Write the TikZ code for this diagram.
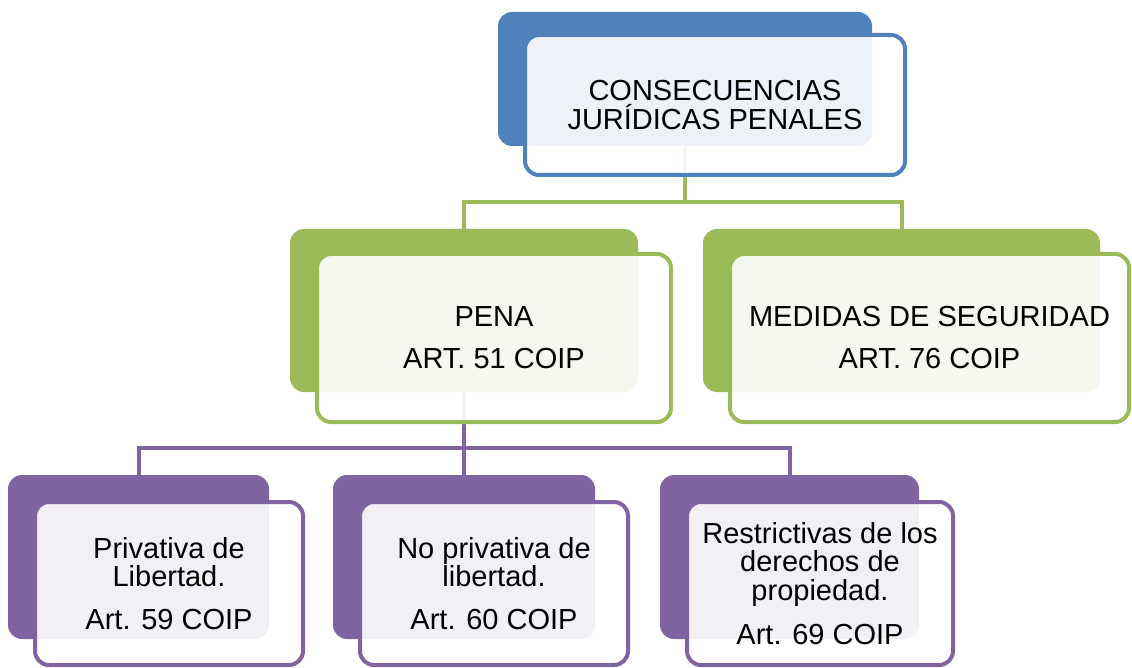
\documentclass[tikz,border=0pt]{standalone}
\usepackage{fontspec}
\setmainfont{Liberation Sans}
\definecolor{cblue}{HTML}{4F81BD}
\definecolor{cgreen}{HTML}{9BBB59}
\definecolor{cpurple}{HTML}{8064A2}
\pgfdeclarelayer{bg}
\pgfsetlayers{bg,main}
\tikzset{
  backbox/.style={rectangle, rounded corners=14pt, inner sep=0pt, draw=none},
  frontbox/.style={rectangle, rounded corners=14pt, inner sep=0pt, line width=4pt,
     fill=white, fill opacity=0.9, text opacity=1, align=center,
     font=\fontsize{29}{28.5}\selectfont},
  conn/.style={line width=4pt}
}
\begin{document}
\begin{tikzpicture}[x=1pt,y=-1pt]
\useasboundingbox (0,0) rectangle (1132,668);
% back boxes
\node[backbox, fill=cblue, minimum width=374pt, minimum height=134pt] (topback) at (685,79) {};
\node[backbox, fill=cgreen, minimum width=348pt, minimum height=163pt] (penaback) at (464,310.5) {};
\node[backbox, fill=cgreen, minimum width=397pt, minimum height=163pt] (medback) at (901.5,310.5) {};
\node[backbox, fill=cpurple, minimum width=261pt, minimum height=164pt] (b1back) at (138.5,557) {};
\node[backbox, fill=cpurple, minimum width=262pt, minimum height=164pt] (b2back) at (464,557) {};
\node[backbox, fill=cpurple, minimum width=259pt, minimum height=164pt] (b3back) at (789.5,557) {};
% front boxes
\node[frontbox, draw=cblue, minimum width=380pt, minimum height=140pt] (top) at (715,105)
  {CONSECUENCIAS\\JURÍDICAS PENALES};
\node[frontbox, draw=cgreen, minimum width=354pt, minimum height=168pt] (pena) at (494,338)
  {PENA\\[13.5pt]ART. 51 COIP};
\node[frontbox, draw=cgreen, minimum width=399pt, minimum height=168pt] (med) at (929.5,338)
  {MEDIDAS DE SEGURIDAD\\[13.5pt]ART. 76 COIP};
\node[frontbox, draw=cpurple, minimum width=268pt, minimum height=163pt] (b1) at (169,583.5)
  {Privativa de\\Libertad.\\[14pt]Art. 59 COIP};
\node[frontbox, draw=cpurple, minimum width=268pt, minimum height=163pt] (b2) at (494,583.5)
  {No privativa de\\libertad.\\[14pt]Art. 60 COIP};
\node[frontbox, draw=cpurple, minimum width=266pt, minimum height=163pt] (b3) at (820,583.5)
  {Restrictivas de los\\derechos de\\propiedad.\\[16pt]Art. 69 COIP};
% connectors
\coordinate (gl) at (0,202);
\coordinate (pl) at (0,448);
\begin{pgfonlayer}{bg}
\draw[conn, cgreen] (topback.center) -- (topback.center |- gl) -| (penaback.center);
\draw[conn, cgreen] (topback.center |- gl) -| (medback.center);
\draw[conn, cpurple] (penaback.center) -- (penaback.center |- pl) -| (b1back.center);
\draw[conn, cpurple] (penaback.center |- pl) -| (b3back.center);
\draw[conn, cpurple] (penaback.center |- pl) -- (b2back.center);
\end{pgfonlayer}
\end{tikzpicture}
\end{document}
